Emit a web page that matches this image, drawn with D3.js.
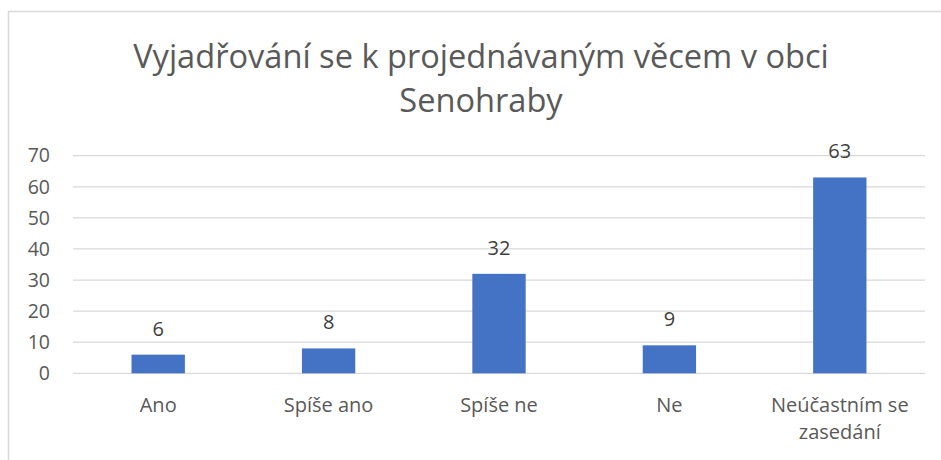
<!DOCTYPE html>
<html>
<head>
<meta charset="utf-8">
<script src="https://cdn.jsdelivr.net/npm/d3@7"></script>
<style>
  body { margin: 0; background: #fff; }
  text { font-family: "Open Sans", "Noto Sans", sans-serif; }
</style>
</head>
<body>
<div id="chart"></div>
<script>
var categories = [["Ano"], ["Spíše ano"], ["Spíše ne"], ["Ne"], ["Neúčastním se", "zasedání"]];
var values = [6, 8, 32, 9, 63];
var yTicks = [0, 10, 20, 30, 40, 50, 60, 70];
var titleLines = ["Vyjadřování se k projednávaným věcem v obci", "Senohraby"];

var W = 941, H = 460;
var margin = { top: 155.7, right: 16, bottom: 86.7, left: 73 };
var width = W - margin.left - margin.right,
  height = H - margin.top - margin.bottom;

var svg = d3.select("#chart")
  .append("svg")
  .attr("width", W)
  .attr("height", H);

// chart frame
svg.append("rect")
  .attr("x", 8.5).attr("y", 11.5)
  .attr("width", W + 10).attr("height", H + 10)
  .attr("fill", "none")
  .attr("stroke", "#d9d9d9")
  .attr("stroke-width", 1.5);

// title
svg.append("g")
  .selectAll("text")
  .data(titleLines)
  .enter()
  .append("text")
  .attr("x", 481)
  .attr("y", function (d, i) { return 67.5 + i * 44; })
  .attr("text-anchor", "middle")
  .attr("fill", "#595959")
  .style("font-size", "32.6px")
  .text(function (d) { return d; });

var g = svg.append("g")
  .attr("transform", "translate(" + margin.left + "," + margin.top + ")");

var x = d3.scaleBand()
  .domain(d3.range(values.length))
  .range([0, width])
  .paddingInner(0.687)
  .paddingOuter(0.3435);

var y = d3.scaleLinear()
  .domain([0, 70])
  .range([height, 0]);

// gridlines
g.append("g")
  .selectAll("line")
  .data(yTicks)
  .enter()
  .append("line")
  .attr("x1", 0).attr("x2", width)
  .attr("y1", function (d) { return y(d); })
  .attr("y2", function (d) { return y(d); })
  .attr("stroke", "#d9d9d9")
  .attr("stroke-width", 1.3);

// y axis labels
var yAxis = g.append("g")
  .call(d3.axisLeft(y).tickValues(yTicks).tickSize(0).tickPadding(23));
yAxis.select(".domain").remove();
yAxis.selectAll("text")
  .attr("fill", "#595959")
  .style("font-family", "'Open Sans', sans-serif")
  .style("font-size", "19.5px");

// bars
g.append("g")
  .selectAll("rect")
  .data(values)
  .enter()
  .append("rect")
  .attr("x", function (d, i) { return x(i); })
  .attr("width", x.bandwidth())
  .attr("y", function (d) { return y(d); })
  .attr("height", function (d) { return height - y(d); })
  .attr("fill", "#4472c4");

// data labels
g.append("g")
  .selectAll("text")
  .data(values)
  .enter()
  .append("text")
  .attr("x", function (d, i) { return x(i) + x.bandwidth() / 2; })
  .attr("y", function (d) { return y(d) - 19; })
  .attr("text-anchor", "middle")
  .attr("fill", "#404040")
  .style("font-size", "20px")
  .text(function (d) { return d; });

// category labels
var cat = g.append("g")
  .selectAll("text")
  .data(categories)
  .enter()
  .append("text")
  .attr("x", function (d, i) { return x(i) + x.bandwidth() / 2; })
  .attr("y", height + 38.5)
  .attr("text-anchor", "middle")
  .attr("fill", "#595959")
  .style("font-size", "20px");

cat.selectAll("tspan")
  .data(function (d) { return d; })
  .enter()
  .append("tspan")
  .attr("x", function () { return d3.select(this.parentNode).attr("x"); })
  .attr("dy", function (d, i) { return i === 0 ? 0 : 27; })
  .text(function (d) { return d; });
</script>
</body>
</html>
